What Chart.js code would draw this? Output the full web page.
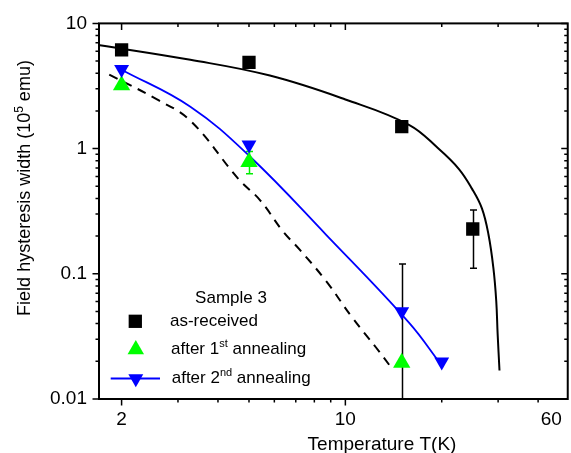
<!DOCTYPE html>
<html>
<head>
<meta charset="utf-8">
<script src="https://cdn.jsdelivr.net/npm/chart.js@4.4.0/dist/chart.umd.min.js"></script>
<style>
  html, body { margin: 0; padding: 0; background: #fff; }
</style>
</head>
<body>
<canvas id="chart" width="571" height="453"></canvas>
<script>
// measured points: temperature (K) and field hysteresis width (1e-5 emu)
const asReceivedT = [2, 5, 15, 25];
const asReceivedW = [6.15, 4.89, 1.50, 0.228];
const firstAnnealT = [2, 5, 15];
const firstAnnealW = [3.2, 0.78, 0.0195];
const secondAnnealT = [2, 5, 15, 20];
const secondAnnealW = [4.3, 1.07, 0.05, 0.0198];

// error bars (T, lower end, upper end)
const errT = [25, 5, 15];
const errLow = [0.111, 0.63, 0.005];
const errHigh = [0.323, 0.95, 0.12];

// fit curves
const fitReceivedT = [1.71, 3.28, 5.81, 10, 15.8, 19.6, 22.6, 24.85, 26.7, 28.0, 29.0, 29.6, 29.9, 30.3];
const fitReceivedW = [6.7, 5.12, 3.83, 2.47, 1.55, 0.993, 0.69, 0.479, 0.333, 0.205, 0.111, 0.0607, 0.033, 0.0169];
const fitDashedT = [1.83, 2.58, 3.28, 4.63, 5.41, 6.39, 7.2, 8.71, 10.5, 12.45, 13.87];
const fitDashedW = [3.90, 2.47, 1.67, 0.574, 0.388, 0.2175, 0.156, 0.0874, 0.0448, 0.0259, 0.018];
const fitSecondT = [2.0, 3.28, 5.06, 8.71, 15.8, 19.83];
const fitSecondW = [4.27, 2.16, 0.853, 0.205, 0.0408, 0.0191];

// axes
const xLabelValues = [2, 10, 44];
const xLabelTexts = ['2', '10', '60'];
const xMajorTicks = [2, 10];
const xMinorTicks = [3, 4, 5, 6, 7, 8, 9, 20, 30, 40];
const yLabelValues = [0.01, 0.1, 1, 10];
const yLabelTexts = ['0.01', '0.1', '1', '10'];
const yMinorTicks = [0.02, 0.03, 0.04, 0.05, 0.06, 0.07, 0.08, 0.09,
                     0.2, 0.3, 0.4, 0.5, 0.6, 0.7, 0.8, 0.9,
                     2, 3, 4, 5, 6, 7, 8, 9];

const FONT = '"Liberation Sans", Arial, sans-serif';

function pts(xs, ys) {
    return xs.map((x, i) => ({ x: x, y: ys[i] }));
}

function marker(ctx, style, r, rot, color, x, y) {
    ctx.save();
    ctx.fillStyle = color;
    ctx.strokeStyle = color;
    Chart.helpers.drawPoint(ctx, { pointStyle: style, radius: r, rotation: rot, borderWidth: 0 }, x, y);
    ctx.restore();
}

// text with a superscript chunk in the middle
function supText(ctx, x, y, before, sup, after, size, supSize, rise) {
    ctx.font = size + 'px ' + FONT;
    ctx.fillText(before, x, y);
    let w = ctx.measureText(before).width;
    ctx.font = supSize + 'px ' + FONT;
    ctx.fillText(sup, x + w, y - rise);
    w += ctx.measureText(sup).width;
    ctx.font = size + 'px ' + FONT;
    ctx.fillText(after, x + w, y);
}

const errorBars = {
    id: 'errorBars',
    beforeDatasetsDraw(chart) {
        const { ctx, chartArea: a, scales: { x, y } } = chart;
        const colors = ['#000', '#00ee00', '#000'];
        ctx.save();
        ctx.beginPath();
        ctx.rect(a.left, a.top, a.right - a.left, a.bottom - a.top);
        ctx.clip();
        ctx.lineWidth = 1.5;
        errT.forEach((t, i) => {
            const px = Math.round(x.getPixelForValue(t)) + 0.5;
            const y1 = y.getPixelForValue(errHigh[i]);
            const y2 = y.getPixelForValue(errLow[i]);
            ctx.strokeStyle = colors[i];
            ctx.beginPath();
            ctx.moveTo(px, y1); ctx.lineTo(px, y2);
            ctx.moveTo(px - 3.5, y1); ctx.lineTo(px + 3.5, y1);
            ctx.moveTo(px - 3.5, y2); ctx.lineTo(px + 3.5, y2);
            ctx.stroke();
        });
        ctx.restore();
    }
};

const frame = {
    id: 'frame',
    afterDraw(chart) {
        const { ctx, chartArea: a, scales: { x, y } } = chart;
        ctx.save();
        ctx.strokeStyle = '#000';
        ctx.lineWidth = 1.5;
        ctx.beginPath();
        const xt = (v, len) => {
            const px = x.getPixelForValue(v);
            ctx.moveTo(px, a.bottom); ctx.lineTo(px, a.bottom + len);
            ctx.moveTo(px, a.top); ctx.lineTo(px, a.top + len);
        };
        const yt = (v, len) => {
            const py = y.getPixelForValue(v);
            ctx.moveTo(a.left - len, py); ctx.lineTo(a.left, py);
            ctx.moveTo(a.right - len, py); ctx.lineTo(a.right, py);
        };
        xMajorTicks.forEach(v => xt(v, 6.5));
        xMinorTicks.forEach(v => xt(v, 3.5));
        yLabelValues.forEach(v => yt(v, 6.5));
        yMinorTicks.forEach(v => yt(v, 3.5));
        ctx.stroke();
        ctx.lineWidth = 2;
        ctx.strokeRect(a.left, a.top, a.right - a.left, a.bottom - a.top);

        // axis titles
        ctx.fillStyle = '#000';
        ctx.textAlign = 'center';
        ctx.textBaseline = 'alphabetic';
        ctx.font = '19px ' + FONT;
        ctx.fillText('Temperature T(K)', 382, 450);

        ctx.save();
        ctx.translate(29.5, 188);
        ctx.rotate(-Math.PI / 2);
        ctx.textAlign = 'left';
        ctx.font = '18px ' + FONT;
        const p1 = 'Field hysteresis width (10', p3 = ' emu)';
        let total = ctx.measureText(p1).width + ctx.measureText(p3).width;
        ctx.font = '12px ' + FONT;
        total += ctx.measureText('5').width;
        supText(ctx, -total / 2, 0, p1, '5', p3, 18, 12, 7);
        ctx.restore();

        // legend
        ctx.textAlign = 'center';
        ctx.font = '17px ' + FONT;
        ctx.fillText('Sample 3', 231, 303);
        ctx.textAlign = 'left';
        marker(ctx, 'rect', 9.4, 0, '#000', 135.3, 321.3);
        ctx.font = '17px ' + FONT;
        ctx.fillText('as-received', 170, 326);
        marker(ctx, 'triangle', 9.5, 0, '#00ff00', 135.8, 349.5);
        supText(ctx, 171, 354, 'after 1', 'st', ' annealing', 17, 11, 7);
        ctx.strokeStyle = '#0000ff';
        ctx.lineWidth = 2;
        ctx.beginPath();
        ctx.moveTo(110.7, 378.5); ctx.lineTo(160, 378.5);
        ctx.stroke();
        marker(ctx, 'triangle', 8.6, 180, '#0000ff', 135.8, 378.6);
        supText(ctx, 171.7, 383, 'after 2', 'nd', ' annealing', 17, 11, 7);
        ctx.restore();
    }
};

new Chart(document.getElementById('chart'), {
    type: 'scatter',
    data: {
        datasets: [
            { data: pts(asReceivedT, asReceivedW), pointStyle: 'rect', pointRadius: 9.4,
              backgroundColor: '#000', borderColor: '#000', pointBorderWidth: 0, showLine: false },
            { data: pts(secondAnnealT, secondAnnealW), pointStyle: 'triangle', pointRotation: 180, pointRadius: 8.6,
              backgroundColor: '#0000ff', borderColor: '#0000ff', pointBorderWidth: 0, showLine: false },
            { data: pts(firstAnnealT, firstAnnealW), pointStyle: 'triangle', pointRadius: 10,
              backgroundColor: '#00ff00', borderColor: '#00ff00', pointBorderWidth: 0, showLine: false },
            { data: pts(fitReceivedT, fitReceivedW), showLine: true, pointRadius: 0, borderColor: '#000',
              borderWidth: 2, tension: 0.4, fill: false },
            { data: pts(fitSecondT, fitSecondW), showLine: true, pointRadius: 0, borderColor: '#0000ff',
              borderWidth: 1.8, tension: 0.4, fill: false },
            { data: pts(fitDashedT, fitDashedW), showLine: true, pointRadius: 0, borderColor: '#000',
              borderWidth: 2, borderDash: [9, 7], tension: 0.4, fill: false }
        ]
    },
    options: {
        responsive: false,
        animation: false,
        devicePixelRatio: 1,
        events: [],
        layout: { autoPadding: false, padding: { top: 20, right: 2, left: 0, bottom: 0 } },
        plugins: { legend: { display: false }, tooltip: { enabled: false } },
        scales: {
            x: {
                type: 'logarithmic', position: 'bottom', min: 1.7, max: 49.5,
                grid: { display: false, drawTicks: false }, border: { display: false },
                afterBuildTicks: (s) => { s.ticks = xLabelValues.map(v => ({ value: v })); },
                afterFit: (s) => { s.height = 54; },
                ticks: { autoSkip: false, maxRotation: 0, padding: 9, color: '#000',
                         font: { family: FONT, size: 19 },
                         callback: (v, i) => xLabelTexts[i] }
            },
            y: {
                type: 'logarithmic', min: 0.01, max: 10,
                grid: { display: false, drawTicks: false }, border: { display: false },
                afterBuildTicks: (s) => { s.ticks = yLabelValues.map(v => ({ value: v })); },
                afterFit: (s) => { s.width = 99; },
                ticks: { autoSkip: false, padding: 12, color: '#000',
                         font: { family: FONT, size: 19 },
                         callback: (v, i) => yLabelTexts[i] }
            }
        }
    },
    plugins: [errorBars, frame]
});
</script>
</body>
</html>
